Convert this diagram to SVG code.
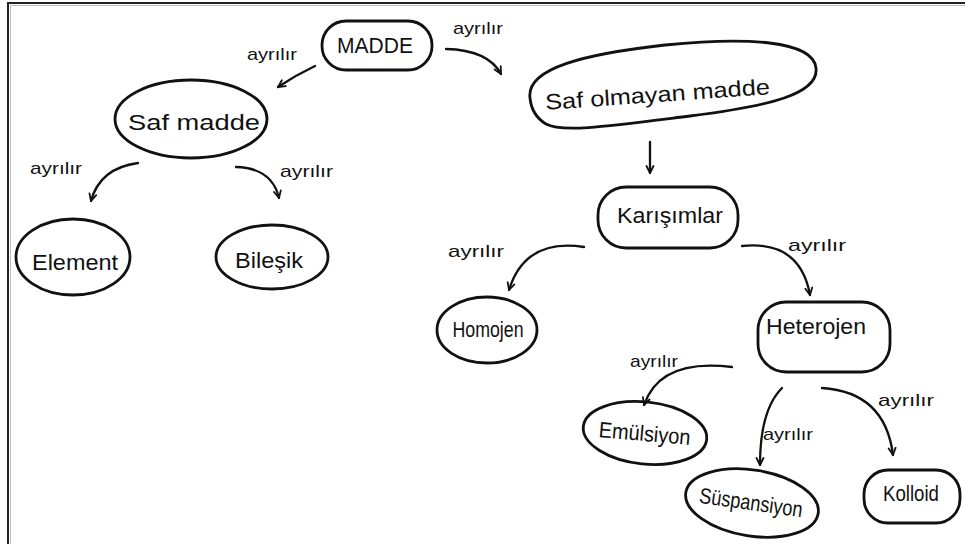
<svg xmlns="http://www.w3.org/2000/svg" width="965" height="544" viewBox="0 0 965 544">
  <style>
    .node { fill: none; stroke: #111; stroke-width: 2.8; stroke-linejoin: round; }
    .lbl { font-family: "Liberation Sans", Arial, sans-serif; font-size: 22px; fill: #111; text-anchor: middle; }
    .rel { font-family: "Liberation Sans", Arial, sans-serif; font-size: 17px; fill: #111; }
    .edge { fill: none; stroke: #111; stroke-width: 2.3; stroke-linecap: round; marker-end: url(#tip); }
  </style>
  <defs>
    <marker id="tip" viewBox="0 0 10 10" refX="8" refY="5" markerWidth="10" markerHeight="10" markerUnits="userSpaceOnUse" orient="auto">
      <path d="M1,1.5 L8,5 L1,8.5" fill="none" stroke="#111" stroke-width="1.8" stroke-linecap="round" stroke-linejoin="round"/>
    </marker>
  </defs>

  <rect x="0" y="0" width="965" height="544" fill="#fff"/>
  <!-- frame -->
  <path d="M8,544 L8,3 L965,3" fill="none" stroke="#222" stroke-width="2"/>
  <path d="M10.5,544 L10.5,5.5 L965,5.5" fill="none" stroke="#bbb" stroke-width="1"/>

  <g id="connectors">
    <path class="edge" d="M315,66 Q296,75 278,87"/>
    <path class="edge" d="M446,49 Q488,50 501,74"/>
    <path class="edge" d="M138,163 Q100,168 91,201"/>
    <path class="edge" d="M236,167 Q272,168 279,198"/>
    <path class="edge" d="M650,142 L650,173"/>
    <path class="edge" d="M584,247 Q525,238 509,290"/>
    <path class="edge" d="M742,246 Q800,240 810,295"/>
    <path class="edge" d="M732,367 Q660,358 644,405"/>
    <path class="edge" d="M782,388 Q760,410 760,465"/>
    <path class="edge" d="M822,388 Q885,392 893,455"/>
    <text class="rel" x="247" y="60" textLength="50" lengthAdjust="spacingAndGlyphs">ayrılır</text>
    <text class="rel" x="453" y="34" textLength="50" lengthAdjust="spacingAndGlyphs">ayrılır</text>
    <text class="rel" x="30" y="174" textLength="52" lengthAdjust="spacingAndGlyphs">ayrılır</text>
    <text class="rel" x="280" y="177" textLength="53" lengthAdjust="spacingAndGlyphs">ayrılır</text>
    <text class="rel" x="448" y="257" textLength="56" lengthAdjust="spacingAndGlyphs">ayrılır</text>
    <text class="rel" x="788" y="251" textLength="58" lengthAdjust="spacingAndGlyphs">ayrılır</text>
    <text class="rel" x="630" y="367" textLength="48" lengthAdjust="spacingAndGlyphs">ayrılır</text>
    <text class="rel" x="763" y="440" textLength="50" lengthAdjust="spacingAndGlyphs">ayrılır</text>
    <text class="rel" x="878" y="406" textLength="56" lengthAdjust="spacingAndGlyphs">ayrılır</text>
  </g>

  <g id="madde">
    <rect class="node" x="322" y="21" width="110" height="49" rx="24"/>
    <text class="lbl" x="375" y="53" textLength="76" lengthAdjust="spacingAndGlyphs">MADDE</text>
  </g>
  <g id="saf-madde">
    <ellipse class="node" cx="191" cy="119" rx="76" ry="39"/>
    <text class="lbl" x="194" y="130" font-size="24" textLength="132" lengthAdjust="spacingAndGlyphs">Saf madde</text>
  </g>
  <g id="element">
    <ellipse class="node" cx="73" cy="257" rx="57" ry="38"/>
    <text class="lbl" x="75" y="270" textLength="86" lengthAdjust="spacingAndGlyphs">Element</text>
  </g>
  <g id="bilesik">
    <ellipse class="node" cx="272" cy="257" rx="56" ry="32"/>
    <text class="lbl" x="269" y="268" textLength="68" lengthAdjust="spacingAndGlyphs">Bileşik</text>
  </g>
  <g id="saf-olmayan-madde">
    <!-- wide blob, taller at the left end -->
    <path class="node" d="M530,98 C526,68 585,54 665,45 C745,37 813,40 816,68 C819,94 770,106 690,116 C610,126 562,133 546,124 C536,118 531,108 530,98 Z"/>
    <text class="lbl" x="658" y="102" font-size="23" textLength="225" lengthAdjust="spacingAndGlyphs" transform="rotate(-4 658 102)">Saf olmayan madde</text>
  </g>
  <g id="karisimlar">
    <rect class="node" x="598" y="187" width="140" height="61" rx="28"/>
    <text class="lbl" x="670" y="223" textLength="106" lengthAdjust="spacingAndGlyphs">Karışımlar</text>
  </g>
  <g id="homojen">
    <ellipse class="node" cx="487" cy="330" rx="50" ry="33"/>
    <text class="lbl" x="488" y="337" font-size="20" textLength="71" lengthAdjust="spacingAndGlyphs">Homojen</text>
  </g>
  <g id="heterojen">
    <rect class="node" x="758" y="302" width="132" height="70" rx="28"/>
    <text class="lbl" x="816" y="334" textLength="100" lengthAdjust="spacingAndGlyphs">Heterojen</text>
  </g>
  <g id="emulsiyon">
    <ellipse class="node" cx="645" cy="433" rx="62" ry="31" transform="rotate(6 645 433)"/>
    <text class="lbl" x="644" y="441" font-size="20" textLength="92" lengthAdjust="spacingAndGlyphs" transform="rotate(5 644 441)">Emülsiyon</text>
  </g>
  <g id="suspansiyon">
    <ellipse class="node" cx="752" cy="503" rx="67" ry="33" transform="rotate(9 752 503)"/>
    <text class="lbl" x="750" y="510" font-size="20" textLength="104" lengthAdjust="spacingAndGlyphs" transform="rotate(8 750 510)">Süspansiyon</text>
  </g>
  <g id="kolloid">
    <rect class="node" x="864" y="470" width="96" height="53" rx="24"/>
    <text class="lbl" x="911" y="501" font-size="18" textLength="56" lengthAdjust="spacingAndGlyphs">Kolloid</text>
  </g>
</svg>
